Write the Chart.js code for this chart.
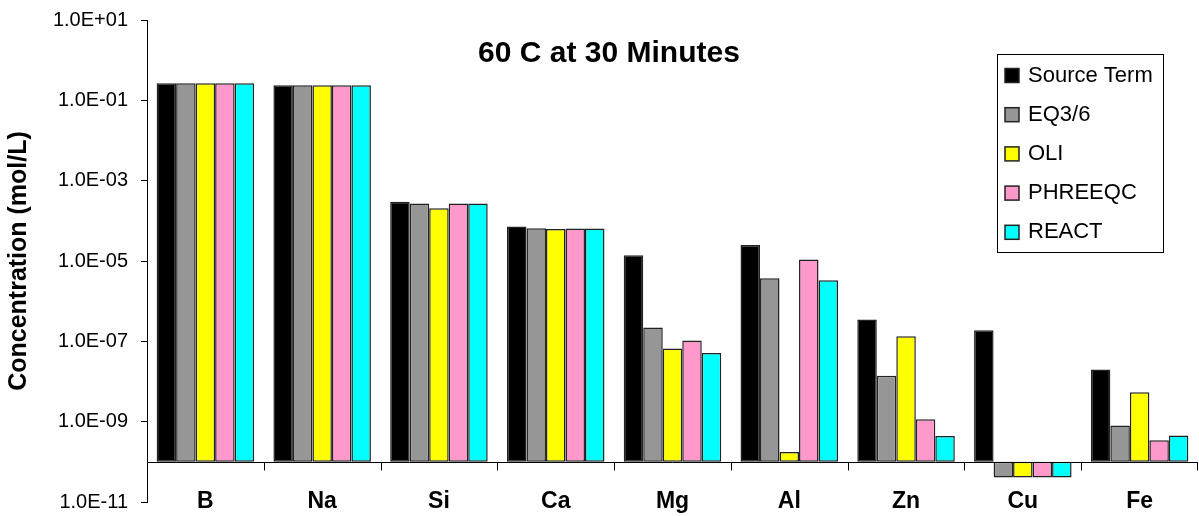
<!DOCTYPE html>
<html lang="en">
<head>
  <meta charset="UTF-8" />
  <title>60 C at 30 Minutes</title>
  <script src="https://cdn.jsdelivr.net/npm/chart.js"></script>
  <style>
    html, body { margin: 0; padding: 0; background: #fff; }
    canvas { display: block; }
  </style>
</head>
<body>
<canvas id="chart" width="1199" height="516"></canvas>

<script>
  // --- data ---
  const categories = ['B', 'Na', 'Si', 'Ca', 'Mg', 'Al', 'Zn', 'Cu', 'Fe'];

  const sourceTerm = [0.265, 0.236, 3.0e-4, 7.2e-5, 1.40e-5, 2.5e-5, 3.5e-7, 1.9e-7, 2.0e-8];
  const eq36       = [0.265, 0.236, 2.7e-4, 6.5e-5, 2.2e-7, 3.7e-6, 1.4e-8, 4.1e-11, 8.0e-10];
  const oli        = [0.265, 0.236, 2.07e-4, 6.3e-5, 6.6e-8, 1.76e-10, 1.34e-7, 4.1e-11, 5.4e-9];
  const phreeqc    = [0.265, 0.236, 2.7e-4, 6.4e-5, 1.05e-7, 1.09e-5, 1.15e-9, 4.1e-11, 3.44e-10];
  const react      = [0.265, 0.236, 2.7e-4, 6.4e-5, 5.15e-8, 3.33e-6, 4.4e-10, 4.1e-11, 4.5e-10];

  const seriesNames  = ['Source Term', 'EQ3/6', 'OLI', 'PHREEQC', 'REACT'];
  const seriesData   = [sourceTerm, eq36, oli, phreeqc, react];
  const seriesColors = ['#000000', '#969696', '#ffff00', '#ff99cc', '#00ffff'];

  const yTicks      = [1e1, 1e-1, 1e-3, 1e-5, 1e-7, 1e-9, 1e-11];
  const yTickLabels = ['1.0E+01', '1.0E-01', '1.0E-03', '1.0E-05', '1.0E-07', '1.0E-09', '1.0E-11'];
  const axisCross   = 1e-10;   // category axis crosses here

  const chartTitle = '60 C at 30 Minutes';
  const yTitle     = 'Concentration (mol/L)';

  const FONT = '"Liberation Sans", Arial, sans-serif';
  const EDGE = '#222';

  // axis line at 1E-10, category ticks, labels, title and legend box
  const overlay = {
    id: 'overlay',
    afterDatasetsDraw(chart) {
      const { ctx, chartArea: a, scales: { x, y } } = chart;
      const y0 = Math.round(y.getPixelForValue(axisCross)) + 0.5;
      ctx.save();

      ctx.strokeStyle = '#000';
      ctx.lineWidth = 1;
      ctx.beginPath();
      ctx.moveTo(a.left, y0);
      ctx.lineTo(a.right, y0);
      for (let i = 1; i <= categories.length; i++) {
        const bx = i < categories.length
          ? (x.getPixelForValue(i - 1) + x.getPixelForValue(i)) / 2
          : a.right - 1;
        const px = Math.round(bx) + 0.5;
        ctx.moveTo(px, y0);
        ctx.lineTo(px, y0 + 8);
      }
      ctx.stroke();

      // category labels
      ctx.fillStyle = '#000';
      ctx.font = 'bold 23px ' + FONT;
      ctx.textAlign = 'center';
      ctx.textBaseline = 'alphabetic';
      categories.forEach((c, i) => ctx.fillText(c, x.getPixelForValue(i), 508));

      // title
      ctx.font = 'bold 30px ' + FONT;
      ctx.fillText(chartTitle, 609, 62);

      // legend
      ctx.strokeRect(997.5, 54.5, 166, 198);
      ctx.font = '22px ' + FONT;
      ctx.textAlign = 'left';
      chart.data.datasets.forEach((ds, i) => {
        const cy = 73.5 + i * 39.2;
        ctx.fillStyle = ds.backgroundColor;
        ctx.fillRect(1005, cy - 5, 14, 14);
        ctx.strokeStyle = EDGE;
        ctx.lineWidth = 1.5;
        ctx.strokeRect(1005, cy - 5, 14, 14);
        ctx.fillStyle = '#000';
        ctx.fillText(ds.label, 1028, cy + 8);
      });

      ctx.restore();
    }
  };

  new Chart(document.getElementById('chart'), {
    type: 'bar',
    data: {
      labels: categories,
      datasets: seriesNames.map((name, i) => ({
        label: name,
        data: seriesData[i],
        backgroundColor: seriesColors[i],
        borderColor: EDGE,
        borderWidth: 1.5,
        borderSkipped: false,
        base: axisCross,
        barPercentage: 1,
        categoryPercentage: 0.835
      }))
    },
    options: {
      responsive: false,
      animation: false,
      layout: { padding: { top: 20, right: 1, bottom: 14, left: 0 } },
      plugins: {
        legend: { display: false },
        tooltip: { enabled: false }
      },
      scales: {
        x: { display: false },
        y: {
          type: 'logarithmic',
          min: 1e-11,
          max: 10,
          afterBuildTicks: scale => { scale.ticks = yTicks.map(v => ({ value: v })); },
          afterFit: scale => {
            scale.width = 147;
            scale.paddingTop = 0;
            scale.paddingBottom = 0;
          },
          ticks: {
            autoSkip: false,
            padding: 13,
            color: '#000',
            font: { family: FONT, size: 20 },
            callback: (v) => yTickLabels[yTicks.indexOf(v)]
          },
          grid: { drawOnChartArea: false, drawTicks: true, tickLength: 6, color: '#000' },
          border: { display: true, color: '#000', width: 1 },
          title: {
            display: true,
            text: yTitle,
            color: '#000',
            font: { family: FONT, size: 25, weight: 'bold' },
            padding: { top: 4, bottom: 0 }
          }
        }
      }
    },
    plugins: [overlay]
  });
</script>
</body>
</html>
